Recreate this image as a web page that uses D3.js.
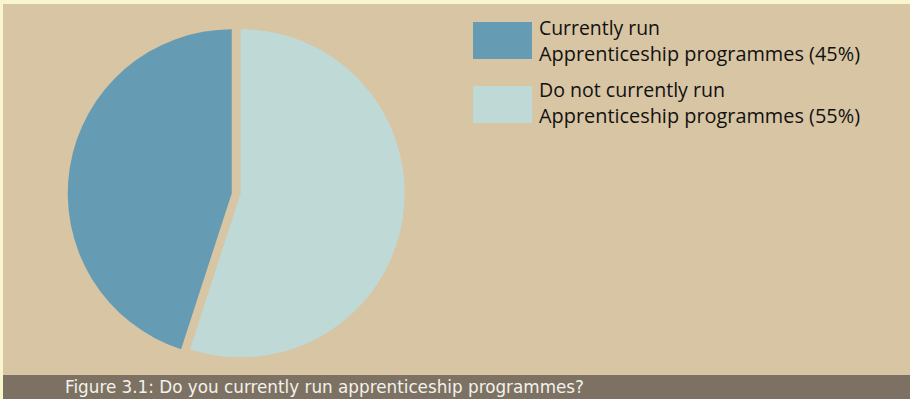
<!DOCTYPE html>
<html><head><meta charset="utf-8">
<script src="https://cdn.jsdelivr.net/npm/d3@7"></script>
<style>html,body{margin:0;padding:0;background:#f8f6cd;}svg{display:block;}</style>
</head><body>
<script>
const categories = ["Currently run Apprenticeship programmes", "Do not currently run Apprenticeship programmes"];
const values = [45, 55];
const legendLines = [["Currently run", "Apprenticeship programmes (45%)"], ["Do not currently run", "Apprenticeship programmes (55%)"]];
const legendWidths = [[121, 321], [186, 321]];
const colors = ["#659cb4", "#bfd9d7"];
const caption = "Figure 3.1: Do you currently run apprenticeship programmes?";

const W = 910, H = 399;
const svg = d3.select("body").append("svg").attr("width", W).attr("height", H);
svg.append("rect").attr("width", W).attr("height", H).attr("fill", "#f8f6cd");
svg.append("rect").attr("x", 3).attr("y", 4).attr("width", W - 3).attr("height", H - 4).attr("fill", "#d8c5a3");
svg.append("rect").attr("x", 3).attr("y", 375).attr("width", W - 3).attr("height", 24).attr("fill", "#7c7163");

// Pie: blue slice counter-clockwise from top, light slice clockwise from top
const total = d3.sum(values);
const pie = d3.pie().sort(null).value(d => d)
  .startAngle(-2 * Math.PI * values[0] / total).endAngle(2 * Math.PI - 2 * Math.PI * values[0] / total);
const arcs = pie(values);
const R = 164;
const arc = d3.arc().innerRadius(0).outerRadius(R);
const cx = 236.2, cy = 193.3, explode = 4.5;
const g = svg.append("g");
g.selectAll("path").data(arcs).join("path")
  .attr("d", arc)
  .attr("fill", (d, i) => colors[i])
  .attr("transform", d => {
    const a = (d.startAngle + d.endAngle) / 2;
    return `translate(${cx + explode * Math.sin(a)},${cy})`;
  });

// Legend
const lg = svg.append("g");
const boxY = [22, 86];
const baseY = [[35, 60.5], [97, 122.5]];
categories.forEach((c, i) => {
  lg.append("rect").attr("x", 473).attr("y", boxY[i]).attr("width", 59).attr("height", 37).attr("fill", colors[i]);
  legendLines[i].forEach((t, j) => {
    lg.append("text").attr("x", 539).attr("y", baseY[i][j])
      .attr("font-family", "'Open Sans', 'Noto Sans', sans-serif").attr("font-size", 20.5)
      .attr("fill", "#111")
      .attr("textLength", legendWidths[i][j]).attr("lengthAdjust", "spacingAndGlyphs")
      .text(t);
  });
});

svg.append("text").attr("x", 65).attr("y", 393)
  .attr("font-family", "'DejaVu Sans', sans-serif").attr("font-size", 18)
  .attr("fill", "#f4f1ea")
  .attr("textLength", 519).attr("lengthAdjust", "spacingAndGlyphs")
  .text(caption);
</script>
</body></html>
